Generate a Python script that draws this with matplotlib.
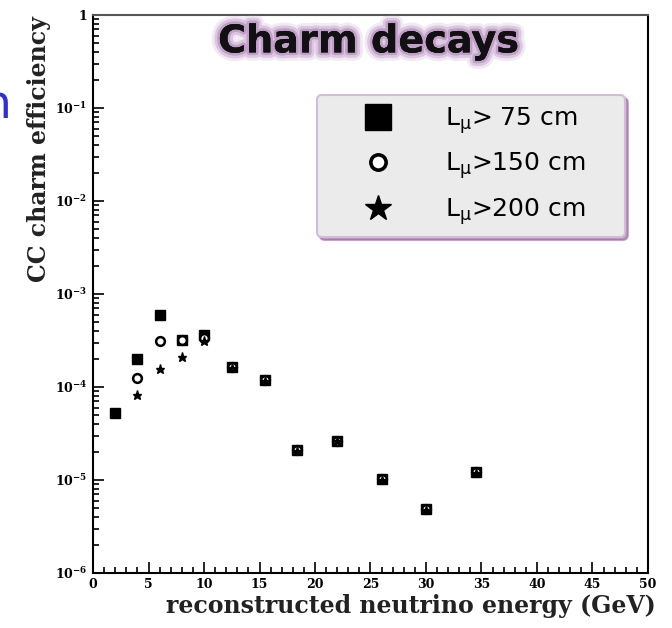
import math
import matplotlib
matplotlib.use("Agg")
import matplotlib.pyplot as plt
import matplotlib.patheffects as pe
from matplotlib.ticker import MultipleLocator, LogLocator, FuncFormatter, NullFormatter

# reconstructed neutrino energy (GeV) and CC charm efficiency per muon-length cut
energy_75 = [2, 4, 6, 8, 10, 12.5, 15.5, 18.4, 22, 26, 30, 34.5]
eff_75 = [5.2e-5, 2.0e-4, 5.9e-4, 3.2e-4, 3.6e-4, 1.65e-4, 1.18e-4, 2.1e-5, 2.65e-5, 1.03e-5, 4.9e-6, 1.22e-5]

energy_150 = [4, 6, 8, 10, 12.5, 15.5, 18.4, 22, 26, 30, 34.5]
eff_150 = [1.25e-4, 3.1e-4, 3.2e-4, 3.4e-4, 1.65e-4, 1.18e-4, 2.1e-5, 2.65e-5, 1.03e-5, 4.9e-6, 1.22e-5]

energy_200 = [4, 6, 8, 10, 12.5, 15.5, 18.4, 22, 26, 30, 34.5]
eff_200 = [8.3e-5, 1.57e-4, 2.1e-4, 3.1e-4, 1.6e-4, 1.15e-4, 2.05e-5, 2.6e-5, 1.0e-5, 4.8e-6, 1.2e-5]

labels = [r"L$_{\mu}$> 75 cm", r"L$_{\mu}$>150 cm", r"L$_{\mu}$>200 cm"]

plt.rcParams["mathtext.fontset"] = "custom"
plt.rcParams["mathtext.bf"] = "DejaVu Serif:bold"
plt.rcParams["mathtext.rm"] = "DejaVu Sans"
plt.rcParams["mathtext.it"] = "DejaVu Sans"

fig = plt.figure(figsize=(6.72, 6.28), dpi=100)
ax = fig.add_axes([93 / 672, 55 / 628, 555 / 672, 558 / 628])

ax.plot(energy_75, eff_75, ls="none", marker="s", ms=6.8, color="black", label=labels[0])
ax.plot(energy_150, eff_150, ls="none", marker="o", ms=6.3, mfc="white", mec="black", mew=1.8,
        label=labels[1])
ax.plot(energy_200, eff_200, ls="none", marker="*", ms=6.5, color="black", label=labels[2])

ax.set_yscale("log")
ax.set_xlim(0, 50)
ax.set_ylim(1e-6, 1)

ax.xaxis.set_major_locator(MultipleLocator(5))
ax.xaxis.set_minor_locator(MultipleLocator(1))
ax.yaxis.set_major_locator(LogLocator(base=10, numticks=10))
ax.yaxis.set_minor_locator(LogLocator(base=10, subs=range(2, 10), numticks=20))
ax.yaxis.set_minor_formatter(NullFormatter())


def ylab(v, pos):
    if v >= 1:
        return r"$\mathbf{1}$"
    return r"$\mathbf{10^{%d}}$" % round(math.log10(v))


ax.yaxis.set_major_formatter(FuncFormatter(ylab))

ax.tick_params(which="both", direction="in", width=1.2, colors="black")
ax.tick_params(which="major", length=8, labelsize=9)
ax.tick_params(which="minor", length=4)
ax.tick_params(axis="y", which="major", pad=4)
for t in ax.get_xticklabels():
    t.set_fontfamily("DejaVu Serif")
    t.set_fontweight("bold")

for s in ax.spines.values():
    s.set_linewidth(1.5)
ax.spines["top"].set_color("#555555")

ax.set_xlabel("reconstructed neutrino energy (GeV)", fontfamily="DejaVu Serif",
              fontweight="bold", fontsize=17, color="#222222")
ax.xaxis.set_label_coords(0.573, -0.038)
ax.set_ylabel("CC charm efficiency", fontfamily="DejaVu Serif",
              fontweight="bold", fontsize=17, color="#222222")
ax.yaxis.set_label_coords(-0.076, 0.76)

glow = "#a878b4"
ax.text(0.497, 0.951, "Charm decays", transform=ax.transAxes, ha="center", va="center",
        fontsize=27.5, fontweight="bold", color="#111111",
        path_effects=[pe.withStroke(linewidth=12, foreground=glow, alpha=0.15),
                      pe.withStroke(linewidth=8, foreground=glow, alpha=0.3),
                      pe.withStroke(linewidth=4, foreground=glow, alpha=0.5),
                      pe.Normal()])

# legend box spans roughly x 317..625, y 95..235 in the reference
lx0 = (317 - 93) / 555
ltop = (573 - 95) / 558
lbot = (573 - 235) / 558
leg = ax.legend(loc="upper left", bbox_to_anchor=(lx0, lbot, 308 / 555, ltop - lbot),
                mode="expand", frameon=True, fancybox=True,
                facecolor="#ebebeb", edgecolor="#d2bcd6", framealpha=1,
                shadow={"color": "#9a5aa3", "alpha": 0.6},
                prop={"family": "DejaVu Sans", "size": 18},
                borderpad=0.4, labelspacing=0.6, handletextpad=0.64, handlelength=4.1,
                borderaxespad=0)
for h, sz in zip(leg.legend_handles, [19, 11, 19]):
    h.set_markersize(sz)
leg.legend_handles[1].set_markeredgewidth(2.6)
leg.get_frame().set_linewidth(1.5)

fig.text(12 / 672, 1 - 118 / 628, "n", color="#2f2fd6", fontsize=34, ha="right", va="baseline",
         fontfamily="DejaVu Sans")

fig.savefig("out.png", dpi=100)
